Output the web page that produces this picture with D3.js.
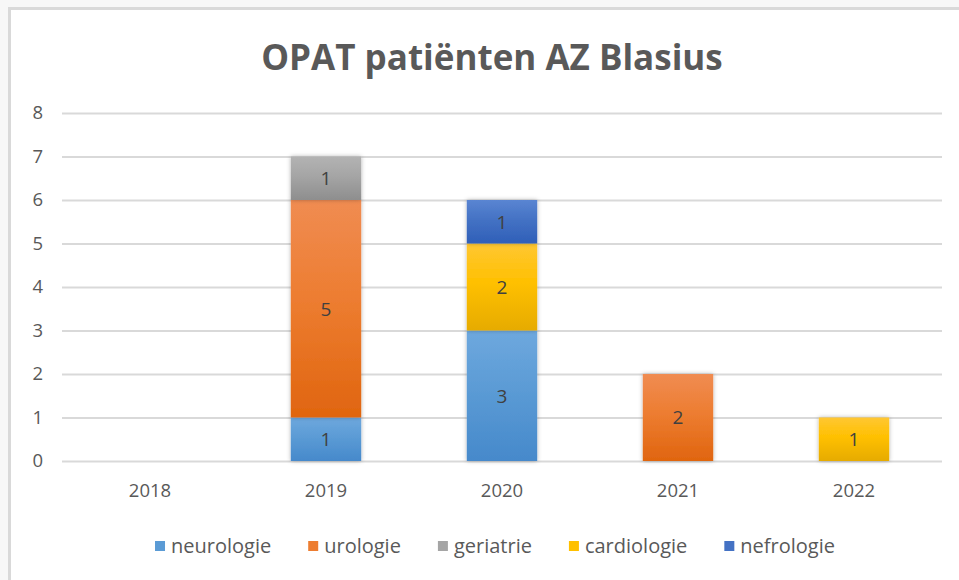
<!DOCTYPE html>
<html>
<head>
<meta charset="utf-8">
<script src="https://cdn.jsdelivr.net/npm/d3@7"></script>
<style>
  body { margin: 0; background: #f7f7f7; }
  svg { display: block; }
  text { font-family: "Open Sans", sans-serif; }
</style>
</head>
<body>
<script>
var years = ["2018", "2019", "2020", "2021", "2022"];
var series = ["neurologie", "urologie", "geriatrie", "cardiologie", "nefrologie"];
var neurologie = [0, 1, 3, 0, 0];
var urologie = [0, 5, 0, 2, 0];
var geriatrie = [0, 1, 0, 0, 0];
var cardiologie = [0, 0, 2, 0, 1];
var nefrologie = [0, 0, 1, 0, 0];
var yTicks = [0, 1, 2, 3, 4, 5, 6, 7, 8];

var colors = ["#5b9bd5", "#ed7d31", "#a5a5a5", "#ffc000", "#4472c4"];
var gradTop = ["#6ea8de", "#f08c52", "#b3b3b3", "#ffc733", "#5a85d2"];
var gradBottom = ["#4689cb", "#e0650f", "#8e8e8e", "#e6ab00", "#2f5fb8"];

var W = 959, H = 580;
var margin = { left: 62, right: 17, top: 113, bottom: 119 };
var width = W - margin.left - margin.right;
var height = H - margin.top - margin.bottom;

var table = years.map((y, i) => ({
    year: y,
    neurologie: neurologie[i],
    urologie: urologie[i],
    geriatrie: geriatrie[i],
    cardiologie: cardiologie[i],
    nefrologie: nefrologie[i]
}));

var root = d3.select("body").append("svg")
    .attr("width", W)
    .attr("height", H);

var defs = root.append("defs");
series.forEach((s, i) => {
    var g = defs.append("linearGradient")
        .attr("id", "grad-" + s)
        .attr("x1", 0).attr("y1", 0).attr("x2", 0).attr("y2", 1);
    g.append("stop").attr("offset", "0%").attr("stop-color", gradTop[i]);
    g.append("stop").attr("offset", "45%").attr("stop-color", colors[i]);
    g.append("stop").attr("offset", "100%").attr("stop-color", gradBottom[i]);
});
var shadow = defs.append("filter").attr("id", "shadow")
    .attr("x", "-20%").attr("y", "-20%").attr("width", "140%").attr("height", "140%");
shadow.append("feDropShadow")
    .attr("dx", 0).attr("dy", 0)
    .attr("stdDeviation", 2)
    .attr("flood-color", "#000")
    .attr("flood-opacity", 0.3);

// chart frame
root.append("rect")
    .attr("x", 9.5).attr("y", 8.5)
    .attr("width", W).attr("height", H)
    .attr("fill", "#fff")
    .attr("stroke", "#d9d9d9")
    .attr("stroke-width", 3);

root.append("text")
    .attr("x", 492)
    .attr("y", 70)
    .attr("text-anchor", "middle")
    .attr("font-size", 35)
    .attr("font-weight", "bold")
    .attr("fill", "#595959")
    .text("OPAT patiënten AZ Blasius");

var svg = root.append("g")
    .attr("transform", `translate(${margin.left}, ${margin.top})`);

var x = d3.scaleBand()
    .domain(years)
    .range([0, width])
    .paddingInner(0.6)
    .paddingOuter(0.3);

var y = d3.scaleLinear()
    .domain([0, 8])
    .range([height, 0]);

var yAxisCall = d3.axisLeft(y)
    .tickValues(yTicks)
    .tickSize(-width)
    .tickPadding(19)
    .tickFormat(d3.format("d"));
var yAxis = svg.append("g")
    .attr("class", "y-axis")
    .call(yAxisCall);
yAxis.select(".domain").remove();
yAxis.selectAll("line").attr("stroke", "#d9d9d9").attr("stroke-width", 2);
yAxis.selectAll("text")
    .attr("font-size", 18.5)
    .attr("fill", "#595959")
    .attr("font-family", "Open Sans");

var xAxisCall = d3.axisBottom(x).tickSize(0).tickPadding(23);
var xAxis = svg.append("g")
    .attr("class", "x-axis")
    .attr("transform", `translate(0, ${height})`)
    .call(xAxisCall);
xAxis.select(".domain").remove();
xAxis.selectAll("text")
    .attr("font-size", 18.5)
    .attr("fill", "#595959")
    .attr("font-family", "Open Sans");

var stacked = d3.stack().keys(series)(table);

var layers = svg.selectAll(".layer")
    .data(stacked)
    .enter()
    .append("g")
    .attr("class", "layer")
    .attr("fill", (d, i) => `url(#grad-${series[i]})`);

layers.selectAll("rect")
    .data(d => d.filter(v => v[1] - v[0] > 0))
    .enter()
    .append("rect")
    .attr("x", d => x(d.data.year))
    .attr("y", d => y(d[1]))
    .attr("width", x.bandwidth())
    .attr("height", d => y(d[0]) - y(d[1]))
    .attr("filter", "url(#shadow)");

layers.selectAll("text")
    .data(d => d.filter(v => v[1] - v[0] > 0))
    .enter()
    .append("text")
    .attr("x", d => x(d.data.year) + x.bandwidth() / 2)
    .attr("y", d => (y(d[0]) + y(d[1])) / 2)
    .attr("dy", "0.36em")
    .attr("text-anchor", "middle")
    .attr("font-size", 19)
    .attr("fill", "#404040")
    .text(d => d[1] - d[0]);

// legend
var legend = root.append("g").attr("transform", "translate(0, 546)");
var items = legend.selectAll("g")
    .data(series)
    .enter()
    .append("g");
items.append("rect")
    .attr("y", -5)
    .attr("width", 10)
    .attr("height", 10)
    .attr("fill", (d, i) => colors[i]);
items.append("text")
    .attr("x", 16)
    .attr("dy", "0.34em")
    .attr("font-size", 20)
    .attr("fill", "#595959")
    .text(d => d);

var widths = [];
items.each(function () { widths.push(this.getBBox().width); });
var gap = 37;
var total = d3.sum(widths) + gap * (widths.length - 1);
var cx = 495 - total / 2;
items.attr("transform", (d, i) => {
    var t = `translate(${cx}, 0)`;
    cx += widths[i] + gap;
    return t;
});
</script>
</body>
</html>
